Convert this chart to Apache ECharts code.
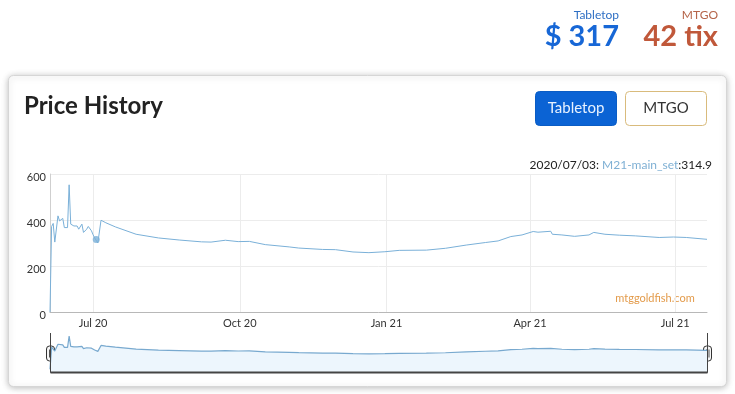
<!DOCTYPE html>
<html><head><meta charset="utf-8">
<script src="https://cdn.jsdelivr.net/npm/echarts@6/dist/echarts.min.js"></script>
<style>html,body{margin:0;padding:0;background:#fff}#c{width:735px;height:394px}</style>
</head><body><div id="c"></div>
<script>
const dates = ['2020-06-04','2020-06-05','2020-06-06','2020-06-07','2020-06-09','2020-06-10','2020-06-12','2020-06-13','2020-06-15','2020-06-16','2020-06-17','2020-06-19','2020-06-21','2020-06-22','2020-06-24','2020-06-25','2020-06-27','2020-06-28','2020-06-30','2020-07-01','2020-07-02','2020-07-03','2020-07-04','2020-07-05','2020-07-06','2020-07-09','2020-07-15','2020-07-28','2020-08-11','2020-08-24','2020-09-07','2020-09-13','2020-09-22','2020-09-30','2020-10-07','2020-10-17','2020-11-01','2020-11-07','2020-11-22','2020-11-30','2020-12-11','2020-12-21','2020-12-31','2021-01-09','2021-01-26','2021-02-07','2021-02-20','2021-03-04','2021-03-12','2021-03-20','2021-03-27','2021-04-03','2021-04-06','2021-04-14','2021-04-15','2021-04-21','2021-04-29','2021-05-08','2021-05-11','2021-05-18','2021-05-27','2021-06-06','2021-06-21','2021-06-30','2021-07-08','2021-07-21'];
const prices = [0,372,385,304,418,396,407,367,367,553,382,374,374,360,382,346,360,372,353,336,322,314.9,300,294,399,388,370,338,322,313,305,304,312,306,307,293,283,278,272,271,261,258,262,268,269,277,291,302,309,328,335,350,347,351,338,335,329,335,346,338,334,331,324,326,324,316];
const tickDates = ['2020-07-01','2020-10-01','2021-01-01','2021-04-01','2021-07-01'];
const tickLabels = ['Jul 20','Oct 20','Jan 21','Apr 21','Jul 21'];
const yTicks = [0,200,400,600];
const seriesName = 'M21-main_set';
const highlightDate = '2020-07-03';
const headerLabels = ['Tabletop','MTGO'];
const headerPrices = ['$ 317','42 tix'];
const buttonLabels = ['Tabletop','MTGO'];
const chartTitle = 'Price History';
const watermark = 'mtggoldfish.com';

const FONT = 'Lato, "Noto Sans", sans-serif';
const LINE = '#7ab0d8';
const chart = echarts.init(document.getElementById('c'), null, {renderer:'canvas'});
const ts = d => +echarts.time.parse(d);
const seriesData = dates.map((d,i)=>[ts(d), prices[i]]);
const hIdx = dates.indexOf(highlightDate);
const tickVals = tickDates.map(ts);
function tickLabel(v){
  let best = 0, bd = Infinity;
  tickVals.forEach((t,i)=>{ const dd = Math.abs(t - v); if (dd < bd){bd = dd; best = i;} });
  return tickLabels[best];
}
const xMin = ts(dates[0]), xMax = ts(dates[dates.length-1]);
const L = 50, R = 28;
const xL = L + 0.5, xR = 735 - R + 0.5;

const option = {
  animation: false,
  backgroundColor: '#fff',
  grid: [
    {left: L, right: R, top: 174, bottom: 82},
    {left: L, right: R, top: 333, height: 39}
  ],
  xAxis: [
    {type:'value', gridIndex:0, min:xMin, max:xMax, scale:true,
     axisLine:{show:true, lineStyle:{color:'#b8b8b8', width:1}},
     axisTick:{show:false, customValues: tickVals},
     axisLabel:{customValues: tickVals, formatter: v => tickLabel(v), color:'#333', fontFamily:FONT, fontSize:11, margin:6, showMinLabel:true, showMaxLabel:true},
     splitLine:{show:true, lineStyle:{color:'#ececec', width:1}}
    },
    {type:'value', gridIndex:1, min:xMin, max:xMax, scale:true, show:false}
  ],
  yAxis: [
    {type:'value', gridIndex:0, min: yTicks[0], max: yTicks[yTicks.length-1], interval: yTicks[1]-yTicks[0],
     axisLine:{show:true, lineStyle:{color:'#cfcfcf'}},
     axisTick:{show:false},
     axisLabel:{color:'#333', fontFamily:FONT, fontSize:11, margin:4, verticalAlign:'middle',
       formatter: v => '{v|' + v + '}',
       rich:{v:{color:'#333', fontFamily:FONT, fontSize:11, padding:[7,0,0,0]}}},
     splitLine:{show:true, lineStyle:{color:'#ececec'}}
    },
    {type:'value', gridIndex:1, min:-44, max:606, show:false}
  ],
  series: [
    {name: seriesName, type:'line', xAxisIndex:0, yAxisIndex:0, data: seriesData, showSymbol:false, symbol:'none',
     lineStyle:{color:LINE, width:1}, itemStyle:{color:LINE}, z:3},
    {type:'scatter', xAxisIndex:0, yAxisIndex:0, data:[seriesData[hIdx]], symbolSize:7, itemStyle:{color:LINE}, z:4, silent:true},
    {type:'line', xAxisIndex:1, yAxisIndex:1, data: seriesData, showSymbol:false, symbol:'none',
     lineStyle:{color:'#78a9cf', width:1.2}, areaStyle:{color:'#edf6fd', opacity:1, origin:'start'}, z:3}
  ],
  graphic: [
    {type:'rect', z:-10, shape:{x:8.5, y:75.5, width:718, height:311, r:5},
     style:{fill:'#fff', stroke:'#d6d6d6', lineWidth:1, shadowBlur:6, shadowColor:'rgba(0,0,0,0.25)', shadowOffsetY:1}},
    {type:'text', x:619, y:15, style:{text:headerLabels[0], font:'12px '+FONT, fill:'#2e6fc4', textAlign:'right', textVerticalAlign:'middle'}},
    {type:'text', x:619, y:37, style:{text:headerPrices[0], font:'bold 29px '+FONT, fill:'#1767d6', textAlign:'right', textVerticalAlign:'middle'}},
    {type:'text', x:718, y:15, style:{text:headerLabels[1], font:'12px '+FONT, fill:'#b5654a', textAlign:'right', textVerticalAlign:'middle'}},
    {type:'text', x:718, y:37, style:{text:headerPrices[1], font:'bold 29px '+FONT, fill:'#c0583a', textAlign:'right', textVerticalAlign:'middle'}},
    {type:'text', x:24, y:106, style:{text:chartTitle, font:'bold 24px '+FONT, fill:'#222', textAlign:'left', textVerticalAlign:'middle'}},
    {type:'rect', shape:{x:535.5, y:91.5, width:81, height:34, r:4}, style:{fill:'#0b63d4', stroke:'#0a5cc4'}},
    {type:'text', x:576, y:108.5, style:{text:buttonLabels[0], font:'15px '+FONT, fill:'#e8f2ff', textAlign:'center', textVerticalAlign:'middle'}},
    {type:'rect', shape:{x:625.5, y:91.5, width:81, height:34, r:4}, style:{fill:'#fff', stroke:'#d9bb7c'}},
    {type:'text', x:666, y:108.5, style:{text:buttonLabels[1], font:'15px '+FONT, fill:'#333', textAlign:'center', textVerticalAlign:'middle'}},
    {type:'text', x:712, y:165, style:{
      text:'{a|' + highlightDate.replace(/-/g,'/') + ': }{b|' + seriesName + '}{a|:' + prices[hIdx] + '}',
      textAlign:'right', textVerticalAlign:'middle',
      rich:{a:{fontFamily:FONT, fontSize:12, fill:'#222'}, b:{fontFamily:FONT, fontSize:12, fill:'#7fb0d4'}}
    }},
    {type:'text', x:655, y:298, style:{text:watermark, font:'11px '+FONT, fill:'#e39b4b', textAlign:'center', textVerticalAlign:'middle'}},
    {type:'polyline', z:10, shape:{points:[[xL,333],[xL,372.5],[xR,372.5],[xR,333]]}, style:{stroke:'#444', lineWidth:1, fill:null}},
    {type:'line', z:10, shape:{x1:xL, y1:372.5, x2:xR, y2:372.5}, style:{stroke:'#444', lineWidth:2}},
    {type:'group', z:11, x:xL, y:353.5, children:[
      {type:'rect', shape:{x:-4, y:-7.5, width:8, height:15, r:3}, style:{fill:'#f6f6f6', stroke:'#333', lineWidth:1}},
      {type:'line', shape:{x1:-1, y1:-4, x2:-1, y2:4}, style:{stroke:'#555', lineWidth:1}},
      {type:'line', shape:{x1:1.5, y1:-4, x2:1.5, y2:4}, style:{stroke:'#555', lineWidth:1}}
    ]},
    {type:'group', z:11, x:xR, y:353.5, children:[
      {type:'rect', shape:{x:-4, y:-7.5, width:8, height:15, r:3}, style:{fill:'#f6f6f6', stroke:'#333', lineWidth:1}},
      {type:'line', shape:{x1:-1, y1:-4, x2:-1, y2:4}, style:{stroke:'#555', lineWidth:1}},
      {type:'line', shape:{x1:1.5, y1:-4, x2:1.5, y2:4}, style:{stroke:'#555', lineWidth:1}}
    ]}
  ]
};
chart.setOption(option);
</script></body></html>
